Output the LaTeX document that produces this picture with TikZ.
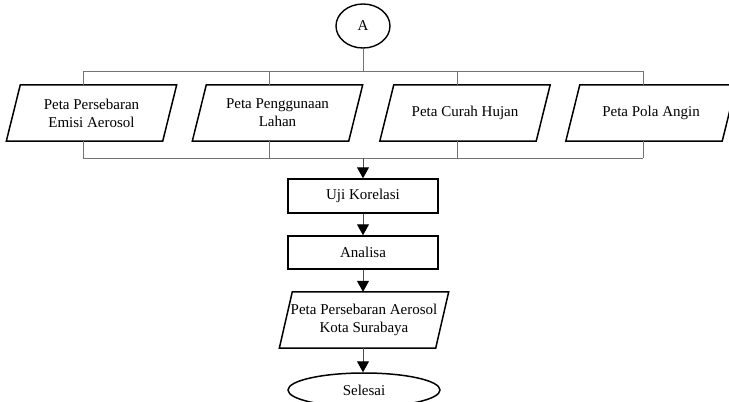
\documentclass[tikz,border=0pt]{standalone}
\usepackage{fontspec}
\setmainfont{Liberation Serif}
\usetikzlibrary{shapes.geometric,arrows.meta,calc}
\begin{document}
\begin{tikzpicture}[x=1pt,y=-1pt,
  lbl/.style={font=\fontsize{15}{18}\selectfont, align=center, inner sep=0pt},
  boxx/.style={lbl, draw, line width=1.5pt, minimum width=150pt, minimum height=34pt},
  para/.style={lbl, minimum width=156pt, minimum height=56pt},
  shp/.style={draw, line width=1.5pt, line join=miter},
  oval/.style={lbl, ellipse, draw, line width=1.4pt},
  conn/.style={draw=black!55, line width=1pt},
  arr/.style={draw=black!70, line width=1pt, -{Triangle[width=12pt,length=11pt,color=black]}}
]
\clip (0,0) rectangle (729,402);
\fill[white] (0,0) rectangle (729,402);

% start connector
\node[oval, minimum width=54pt, minimum height=44pt] (A) at (363,26) {A};

% input maps
\node[para] (p1) at (91.5,113) {Peta Persebaran\\Emisi Aerosol};
\node[para] (p2) at (277.5,113) {Peta Penggunaan\\Lahan};
\node[para] (p3) at (465,113) {Peta Curah Hujan};
\node[para] (p4) at (651,113) {Peta Pola Angin};
\foreach \p in {p1,p2,p3,p4}{
  \draw[shp] ($(\p.north west)+(7,0)$) -- ($(\p.north east)+(7,0)$) -- ($(\p.south east)+(-7,0)$) -- ($(\p.south west)+(-7,0)$) -- cycle;
}

% process chain
\node[boxx] (uji) at (363,196) {Uji Korelasi};
\node[boxx, minimum height=33pt] (ana) at (363,252.5) {Analisa};
\node[para] (out) at (364,320) {Peta Persebaran Aerosol\\Kota Surabaya};
\draw[shp] ($(out.north west)+(6.5,0)$) -- ($(out.north east)+(6.5,0)$) -- ($(out.south east)+(-6.5,0)$) -- ($(out.south west)+(-6.5,0)$) -- cycle;
\node[oval, line width=1.5pt, minimum width=152pt, minimum height=34pt] (end) at (364,390) {Selesai};

% bus coordinates
\coordinate (t1) at (83,71);
\coordinate (t2) at (269,71);
\coordinate (t3) at (457,71);
\coordinate (t4) at (643,71);
\coordinate (b1) at (83,158);
\coordinate (b2) at (269,158);
\coordinate (b3) at (457,158);
\coordinate (b4) at (643,158);

\draw[conn] (A.south) -- (A.south |- t1);
\draw[conn] (t1) -- (t4);
\draw[conn] (b1) -- (b4);
\draw[conn] (t1) -- (t1 |- p1.north);
\draw[conn] (t2) -- (t2 |- p2.north);
\draw[conn] (t3) -- (t3 |- p3.north);
\draw[conn] (t4) -- (t4 |- p4.north);
\draw[conn] (p1.south -| b1) -- (b1);
\draw[conn] (p2.south -| b2) -- (b2);
\draw[conn] (p3.south -| b3) -- (b3);
\draw[conn] (p4.south -| b4) -- (b4);

% arrows
\draw[arr] (uji.north |- b1) -- (uji.north);
\draw[arr] (uji.south) -- (ana.north);
\draw[arr] (ana.south) -- (ana.south |- out.north);
\draw[arr] (ana.south |- out.south) -- (ana.south |- end.north);
\end{tikzpicture}
\end{document}
